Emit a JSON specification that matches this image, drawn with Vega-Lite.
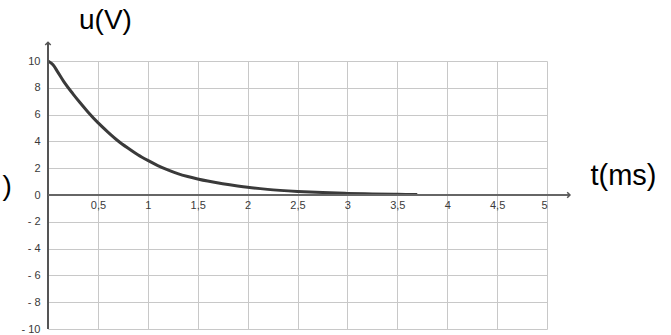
{
  "$schema": "https://vega.github.io/schema/vega-lite/v6.json",
  "width": 499,
  "height": 268,
  "autosize": "none",
  "padding": {"left": 48, "top": 61, "right": 124, "bottom": 6},
  "background": "white",
  "config": {"view": {"stroke": null}, "font": "Liberation Sans"},
  "datasets": {
    "curve": [
      {"t": 0, "u": 10},
      {"t": 0.05, "u": 9.72},
      {"t": 0.1, "u": 9.15},
      {"t": 0.155, "u": 8.5},
      {"t": 0.25, "u": 7.55},
      {"t": 0.32, "u": 6.9},
      {"t": 0.4, "u": 6.2},
      {"t": 0.5, "u": 5.4},
      {"t": 0.6, "u": 4.7},
      {"t": 0.7, "u": 4.05},
      {"t": 0.8, "u": 3.5},
      {"t": 0.9, "u": 3.0},
      {"t": 1.0, "u": 2.58},
      {"t": 1.1, "u": 2.2},
      {"t": 1.2, "u": 1.88},
      {"t": 1.3, "u": 1.6},
      {"t": 1.4, "u": 1.38},
      {"t": 1.5, "u": 1.2},
      {"t": 1.6, "u": 1.04},
      {"t": 1.75, "u": 0.84},
      {"t": 1.9, "u": 0.67},
      {"t": 2.0, "u": 0.57},
      {"t": 2.2, "u": 0.42},
      {"t": 2.5, "u": 0.27},
      {"t": 2.75, "u": 0.18},
      {"t": 3.0, "u": 0.12},
      {"t": 3.25, "u": 0.08},
      {"t": 3.5, "u": 0.05},
      {"t": 3.7, "u": 0.04}
    ]
  },
  "layer": [
    {
      "data": {"name": "curve"},
      "mark": {"type": "line", "color": "#3a3a3a", "strokeWidth": 3, "interpolate": "monotone"},
      "encoding": {
        "x": {
          "field": "t", "type": "quantitative",
          "scale": {"domain": [0, 5], "nice": false, "zero": false},
          "axis": {
            "values": [0, 0.5, 1, 1.5, 2, 2.5, 3, 3.5, 4, 4.5, 5],
            "tickCount": 20,
            "grid": true, "gridColor": "#c8c8c8", "domain": false, "ticks": false,
            "offset": -134, "labelOverlap": false,
            "labelExpr": "datum.value == 0 ? '' : replace(toString(datum.value), '.', ',')",
            "labelFontSize": 11, "labelColor": "#3a3a3a", "labelPadding": 4,
            "title": "t(ms)", "titleFontSize": 29, "titleFontWeight": "normal", "titleColor": "#000",
            "titleX": 575, "titleY": -11, "titleAlign": "center", "titleBaseline": "alphabetic"
          }
        },
        "y": {
          "field": "u", "type": "quantitative",
          "scale": {"domain": [-10, 10], "nice": false},
          "axis": {
            "values": [-10, -8, -6, -4, -2, 0, 2, 4, 6, 8, 10],
            "tickCount": 20,
            "grid": true, "gridColor": "#c8c8c8", "domain": false, "ticks": false,
            "labelOverlap": false,
            "labelPadding": 8, "labelFontSize": 11, "labelColor": "#3a3a3a",
            "labelExpr": "datum.value < 0 ? '- ' + abs(datum.value) : toString(datum.value)",
            "title": "u(V)", "titleAngle": 0, "titleFontSize": 28, "titleFontWeight": "normal", "titleColor": "#000",
            "titleX": 57, "titleY": -33, "titleAlign": "center", "titleBaseline": "alphabetic"
          }
        }
      }
    },
    {
      "data": {"values": [{}]},
      "mark": {"type": "rule", "color": "#555", "strokeWidth": 2},
      "encoding": {"x": {"datum": 0}, "y": {"datum": -10}, "y2": {"datum": 11.4}}
    },
    {
      "data": {"values": [{}]},
      "mark": {"type": "rule", "color": "#666", "strokeWidth": 2},
      "encoding": {"y": {"datum": 0}, "x": {"datum": 0}, "x2": {"datum": 5.23}}
    },
    {
      "data": {"values": [{}]},
      "mark": {"type": "point", "shape": "M-1,1L0,0L1,1", "size": 30, "filled": false, "stroke": "#555", "strokeWidth": 1.5, "opacity": 1},
      "encoding": {"x": {"datum": 0}, "y": {"datum": 11.4}}
    },
    {
      "data": {"values": [{}]},
      "mark": {"type": "point", "shape": "M-1,-1L0,0L-1,1", "size": 30, "filled": false, "stroke": "#555", "strokeWidth": 1.5, "opacity": 1},
      "encoding": {"x": {"datum": 5.23}, "y": {"datum": 0}}
    },
    {
      "data": {"values": [{"label": ")"}]},
      "mark": {"type": "text", "fontSize": 28, "color": "#000", "align": "center", "baseline": "middle"},
      "encoding": {"x": {"datum": -0.41}, "y": {"datum": 0.6}, "text": {"field": "label"}}
    }
  ]
}
